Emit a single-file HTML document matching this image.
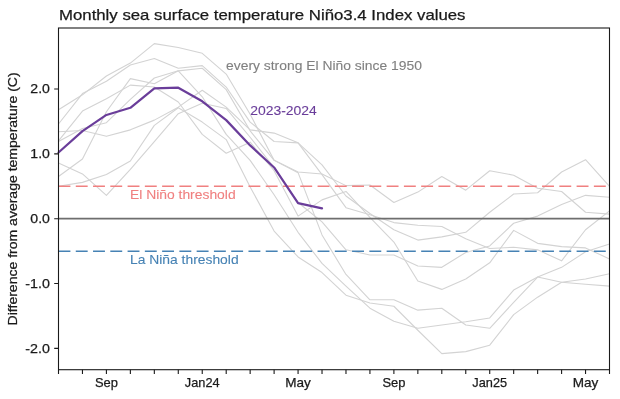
<!DOCTYPE html><html><head><meta charset="utf-8"><style>html,body{margin:0;padding:0;background:#fff;}svg{display:block;} .wc{will-change:transform;}</style></head><body><div class="wc"><svg width="620" height="399" viewBox="0 0 620 399">
<rect x="0" y="0" width="620" height="399" fill="#ffffff"/>
<g fill="none" stroke="#d3d3d3" stroke-width="1.1" stroke-linejoin="round">
<polyline points="58.50,109.75 82.46,94.84 106.41,76.03 130.37,63.06 154.33,43.60 178.28,47.50 202.24,53.33 226.20,74.08 250.15,114.29 274.11,160.33 298.07,172.01 322.02,173.95 345.98,185.63 369.93,184.98 393.89,202.49 417.85,192.11 441.80,176.55 465.76,190.17 489.72,170.71 513.67,175.25 537.63,188.22 561.59,191.46 585.54,212.21 609.50,214.16"/>
<polyline points="58.50,124.02 82.46,93.54 106.41,81.22 130.37,65.01 154.33,58.52 178.28,68.25 202.24,65.65 226.20,87.05 250.15,122.07 274.11,141.53 298.07,142.83 322.02,164.87 345.98,196.00 369.93,213.51 393.89,229.72 417.85,240.10 441.80,236.86 465.76,232.32 489.72,212.21 513.67,194.06 537.63,192.76 561.59,172.01 585.54,159.69 609.50,186.27"/>
<polyline points="58.50,141.53 82.46,128.56 106.41,122.72 130.37,99.38 154.33,77.98 178.28,70.84 202.24,68.25 226.20,89.65 250.15,130.83 274.11,160.33 298.07,172.66 322.02,234.91 345.98,274.47 369.93,299.76 393.89,299.76 417.85,310.14 441.80,308.19 465.76,325.05 489.72,328.30 513.67,302.36 537.63,277.06 561.59,267.34 585.54,251.77 609.50,243.99"/>
<polyline points="58.50,176.55 82.46,159.04 106.41,111.70 130.37,78.62 154.33,83.81 178.28,70.84 202.24,96.78 226.20,134.39 250.15,160.33 274.11,194.71 298.07,232.32 322.02,263.45 345.98,286.14 369.93,308.19 393.89,321.16 417.85,328.30 441.80,325.05 465.76,321.81 489.72,317.92 513.67,290.03 537.63,277.06 561.59,282.25 585.54,284.20 609.50,286.14"/>
<polyline points="58.50,140.88 82.46,111.05 106.41,98.73 130.37,85.11 154.33,87.05 178.28,101.97 202.24,134.39 226.20,153.20 250.15,142.18 274.11,170.71 298.07,216.11 322.02,199.89 345.98,191.46 369.93,217.40 393.89,242.05 417.85,280.96 441.80,289.39 465.76,279.01 489.72,262.80 513.67,230.37 537.63,243.34 561.59,246.59 585.54,247.88 609.50,258.91"/>
<polyline points="58.50,131.80 82.46,130.50 106.41,136.34 130.37,129.86 154.33,120.13 178.28,107.16 202.24,90.30 226.20,107.16 250.15,129.86 274.11,133.10 298.07,142.83 322.02,174.60 345.98,207.68 369.93,214.81 393.89,222.59 417.85,225.19 441.80,226.48 465.76,238.80 489.72,248.53 513.67,247.23 537.63,249.83 561.59,260.85 585.54,229.72 609.50,210.92"/>
<polyline points="58.50,186.27 82.46,182.38 106.41,174.60 130.37,160.98 154.33,125.32 178.28,107.81 202.24,122.07 226.20,139.58 250.15,186.92 274.11,231.02 298.07,256.96 322.02,272.53 345.98,295.22 369.93,303.00 393.89,306.25 417.85,330.24 441.80,353.59 465.76,351.64 489.72,345.16 513.67,314.68 537.63,297.17 561.59,282.25 585.54,279.01 609.50,273.82"/>
<polyline points="58.50,162.93 82.46,173.95 106.41,195.35 130.37,169.41 154.33,141.53 178.28,113.64 202.24,103.27 226.20,108.45 250.15,137.25 274.11,167.47 298.07,202.49 322.02,221.94 345.98,249.83 369.93,255.02 393.89,255.02 417.85,266.04 441.80,267.34 465.76,252.42 489.72,245.94 513.67,223.24 537.63,216.11 561.59,204.43 585.54,195.35 609.50,197.30"/>
</g>
<line x1="58.5" y1="218.7" x2="609.5" y2="218.7" stroke="#6e6e6e" stroke-width="1.7"/>
<line x1="58.5" y1="186.2" x2="609.5" y2="186.2" stroke="#f08080" stroke-width="1.6" stroke-dasharray="11.9 5.37"/>
<line x1="58.5" y1="251.2" x2="609.5" y2="251.2" stroke="#4682b4" stroke-width="1.6" stroke-dasharray="11.9 5.37"/>
<polyline points="58.50,152.55 82.46,131.15 106.41,114.94 130.37,107.81 154.33,88.35 178.28,87.70 202.24,101.32 226.20,120.13 250.15,145.42 274.11,167.47 298.07,203.14 322.02,208.32" fill="none" stroke="#6a3d9a" stroke-width="2.2" stroke-linejoin="round" stroke-linecap="round"/>
<rect x="58.5" y="28.0" width="551.0" height="341.7" fill="none" stroke="#1a1a1a" stroke-width="1.1"/>
<path d="M58.50,369.7V373.9 M82.46,369.7V373.9 M106.41,369.7V373.9 M130.37,369.7V373.9 M154.33,369.7V373.9 M178.28,369.7V373.9 M202.24,369.7V373.9 M226.20,369.7V373.9 M250.15,369.7V373.9 M274.11,369.7V373.9 M298.07,369.7V373.9 M322.02,369.7V373.9 M345.98,369.7V373.9 M369.93,369.7V373.9 M393.89,369.7V373.9 M417.85,369.7V373.9 M441.80,369.7V373.9 M465.76,369.7V373.9 M489.72,369.7V373.9 M513.67,369.7V373.9 M537.63,369.7V373.9 M561.59,369.7V373.9 M585.54,369.7V373.9 M609.50,369.7V373.9 M609.5,369.7V373.9 M54.2,89.00H58.5 M54.2,153.85H58.5 M54.2,218.70H58.5 M54.2,283.55H58.5 M54.2,348.40H58.5" stroke="#1a1a1a" stroke-width="1.1" fill="none"/>
<text x="59.0" y="20.3" font-family="Liberation Sans, sans-serif" font-size="14.6" fill="#1a1a1a" stroke="#1a1a1a" stroke-width="0.25" text-anchor="start" textLength="406.5" lengthAdjust="spacingAndGlyphs" >Monthly sea surface temperature Niño3.4 Index values</text>
<text x="49.9" y="93.10" font-family="Liberation Sans, sans-serif" font-size="13.2" fill="#1a1a1a" stroke="#1a1a1a" stroke-width="0.25" text-anchor="end" textLength="19.6" lengthAdjust="spacingAndGlyphs" >2.0</text>
<text x="49.9" y="157.95" font-family="Liberation Sans, sans-serif" font-size="13.2" fill="#1a1a1a" stroke="#1a1a1a" stroke-width="0.25" text-anchor="end" textLength="19.6" lengthAdjust="spacingAndGlyphs" >1.0</text>
<text x="49.9" y="222.80" font-family="Liberation Sans, sans-serif" font-size="13.2" fill="#1a1a1a" stroke="#1a1a1a" stroke-width="0.25" text-anchor="end" textLength="19.6" lengthAdjust="spacingAndGlyphs" >0.0</text>
<text x="49.9" y="287.65" font-family="Liberation Sans, sans-serif" font-size="13.2" fill="#1a1a1a" stroke="#1a1a1a" stroke-width="0.25" text-anchor="end" textLength="24.6" lengthAdjust="spacingAndGlyphs" >-1.0</text>
<text x="49.9" y="352.50" font-family="Liberation Sans, sans-serif" font-size="13.2" fill="#1a1a1a" stroke="#1a1a1a" stroke-width="0.25" text-anchor="end" textLength="24.6" lengthAdjust="spacingAndGlyphs" >-2.0</text>
<text x="106.41" y="387.4" font-family="Liberation Sans, sans-serif" font-size="13.3" fill="#1a1a1a" stroke="#1a1a1a" stroke-width="0.25" text-anchor="middle" textLength="23.0" lengthAdjust="spacingAndGlyphs" >Sep</text>
<text x="202.24" y="387.4" font-family="Liberation Sans, sans-serif" font-size="13.3" fill="#1a1a1a" stroke="#1a1a1a" stroke-width="0.25" text-anchor="middle" textLength="34.8" lengthAdjust="spacingAndGlyphs" >Jan24</text>
<text x="298.07" y="387.4" font-family="Liberation Sans, sans-serif" font-size="13.3" fill="#1a1a1a" stroke="#1a1a1a" stroke-width="0.25" text-anchor="middle" textLength="25.6" lengthAdjust="spacingAndGlyphs" >May</text>
<text x="393.89" y="387.4" font-family="Liberation Sans, sans-serif" font-size="13.3" fill="#1a1a1a" stroke="#1a1a1a" stroke-width="0.25" text-anchor="middle" textLength="23.0" lengthAdjust="spacingAndGlyphs" >Sep</text>
<text x="489.72" y="387.4" font-family="Liberation Sans, sans-serif" font-size="13.3" fill="#1a1a1a" stroke="#1a1a1a" stroke-width="0.25" text-anchor="middle" textLength="34.8" lengthAdjust="spacingAndGlyphs" >Jan25</text>
<text x="585.54" y="387.4" font-family="Liberation Sans, sans-serif" font-size="13.3" fill="#1a1a1a" stroke="#1a1a1a" stroke-width="0.25" text-anchor="middle" textLength="25.6" lengthAdjust="spacingAndGlyphs" >May</text>
<text x="0" y="0" font-family="Liberation Sans, sans-serif" font-size="12.6" fill="#1a1a1a" stroke="#1a1a1a" stroke-width="0.25" text-anchor="middle" textLength="253" lengthAdjust="spacingAndGlyphs" transform="translate(17.4,198.9) rotate(-90)">Difference from average temperature (C)</text>
<text x="226.0" y="69.6" font-family="Liberation Sans, sans-serif" font-size="12.6" fill="#808080" stroke="#808080" stroke-width="0.1" text-anchor="start" textLength="196.0" lengthAdjust="spacingAndGlyphs" >every strong El Niño since 1950</text>
<text x="250.2" y="114.9" font-family="Liberation Sans, sans-serif" font-size="12.6" fill="#6a3d9a" stroke="#6a3d9a" stroke-width="0.1" text-anchor="start" textLength="66.6" lengthAdjust="spacingAndGlyphs" >2023-2024</text>
<text x="130.0" y="199.4" font-family="Liberation Sans, sans-serif" font-size="12.6" fill="#f08080" stroke="#f08080" stroke-width="0.1" text-anchor="start" textLength="105.6" lengthAdjust="spacingAndGlyphs" >El Niño threshold</text>
<text x="130.0" y="264.4" font-family="Liberation Sans, sans-serif" font-size="12.6" fill="#4682b4" stroke="#4682b4" stroke-width="0.1" text-anchor="start" textLength="108.6" lengthAdjust="spacingAndGlyphs" >La Niña threshold</text>
</svg></div></body></html>
